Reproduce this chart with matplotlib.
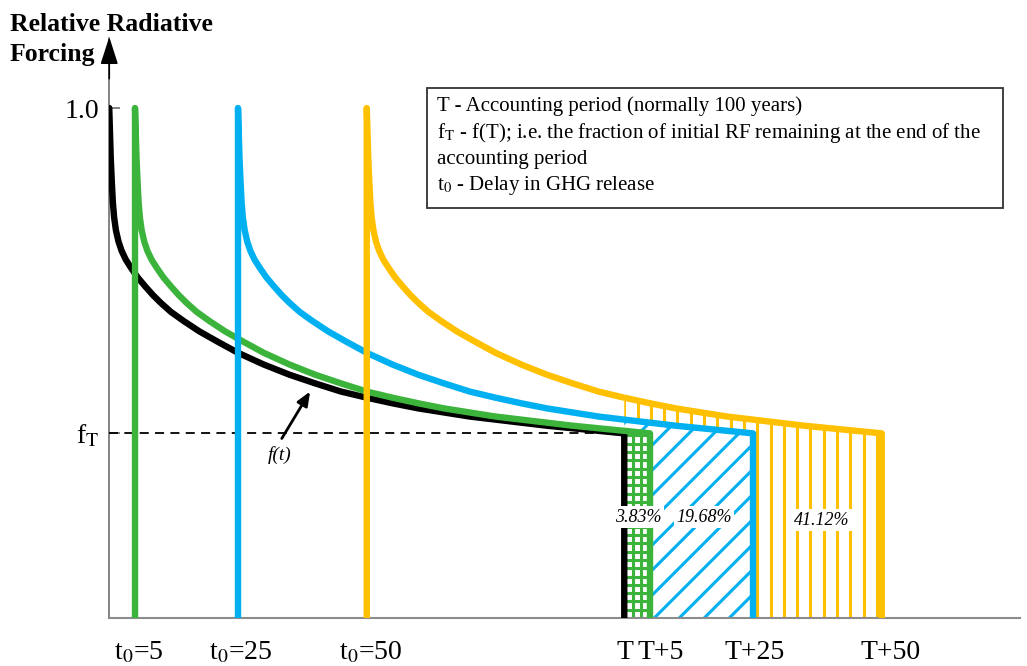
import numpy as np
import matplotlib
matplotlib.use("Agg")
import matplotlib.pyplot as plt
from matplotlib.patches import Rectangle
from matplotlib.collections import LineCollection

plt.rcParams['font.family'] = ['Liberation Serif', 'DejaVu Serif']
plt.rcParams['mathtext.fontset'] = 'stix'

# ---- data ----
t_years = [0, 0.15, 0.3, 0.5, 0.7, 0.95, 1.3, 1.8, 2.4, 3.2, 4.2, 5.5, 7, 8.5,
           10, 12, 14.5, 17.5, 21, 25, 30, 35, 40, 45, 50, 55, 60, 65, 70, 75,
           80, 85, 90, 95, 100]
f_frac = [1.00, 0.95, 0.90, 0.855, 0.815, 0.785, 0.76, 0.738, 0.72, 0.703,
          0.687, 0.668, 0.65, 0.633, 0.618, 0.600, 0.582, 0.562, 0.542, 0.52,
          0.497, 0.477, 0.46, 0.444, 0.432, 0.421, 0.411, 0.403, 0.395, 0.389,
          0.383, 0.377, 0.372, 0.367, 0.362]
T = 100
delays = [5, 25, 50]
delay_colors = ['#3CB43C', '#00B0F0', '#FFC000']
pct_labels = ['3.83%', '19.68%', '41.12%']
pct_pos = [(102.8, 0.198), (115.5, 0.198), (138.4, 0.192)]
tick_pos = [5, 25, 50, 100, 105, 125, 150]
tick_labels = [r't$_0$=5', r't$_0$=25', r't$_0$=50', 'T', 'T+5', 'T+25', 'T+50']
tick_dx_px = [4, 3, 4, 1, 11, 2, 9]

# hatch styles (kind, spacing in px, offset in px)
hatch_styles = [('grid', 8.3, 0), ('diag', 25, 30), ('vert', 13.3, 0)]

t = np.array(t_years, dtype=float)
f = np.array(f_frac, dtype=float)
fT = f[-1]

W, H = 1027, 666
fig = plt.figure(figsize=(W / 100, H / 100), dpi=100)
x0, x1, yb, yt = 109.25, 1020, 618, 38
ax = fig.add_axes([x0 / W, 1 - yb / H, (x1 - x0) / W, (yb - yt) / H])
px_per_year = 5.15
px_per_unit = 510
ax.set_xlim(0, (x1 - x0) / px_per_year)
ax.set_ylim(0, (yb - yt) / px_per_unit)

for s in ['top', 'right']:
    ax.spines[s].set_visible(False)
ax.spines['bottom'].set_color('#8c8c8c')
ax.spines['bottom'].set_linewidth(1.5)
ax.spines['left'].set_color('#6e6e6e')
ax.spines['left'].set_linewidth(1.2)

# y-axis arrow head
ax.annotate('', xy=(0, 1.0 + 0.002), xycoords=('data', 'axes fraction'),
            xytext=(0, 0.93), textcoords=('data', 'axes fraction'),
            arrowprops=dict(arrowstyle='-|>,head_length=1.0,head_width=0.32',
                            color='black', lw=1.2, mutation_scale=17,
                            shrinkA=0, shrinkB=0), annotation_clip=False)


def hatched_area(xs, ys, color, style, z):
    kind, sp_px, off_px = style
    poly = ax.fill_between(xs, 0, ys, facecolor='white', linewidth=0, zorder=z)
    path = poly.get_paths()[0]
    xmin, xmax, ymax = xs[0], xs[-1], ys.max() + 0.05
    spx = sp_px / px_per_year
    segs = []
    if kind in ('vert', 'grid'):
        for xv in xmin + off_px / px_per_year + spx * np.arange(0, 200):
            if xv > xmax + spx:
                break
            segs.append([(xv, 0), (xv, ymax)])
    if kind == 'grid':
        spy = sp_px / px_per_unit
        for yv in spy * np.arange(0, 200):
            if yv > ymax:
                break
            segs.append([(xmin - 1, yv), (xmax + 1, yv)])
    if kind == 'diag':
        k = px_per_unit / px_per_year
        b0 = xmin + off_px / px_per_year
        for b in b0 + spx * np.arange(-60, 60):
            segs.append([(b, 0), (b + ymax * k, ymax)])
    lc = LineCollection(segs, colors=color, linewidths=2.2, zorder=z + 0.05)
    lc.set_clip_path(path, ax.transData)
    ax.add_collection(lc)


# hatched areas (back to front: yellow, blue, green)
for k in [2, 1, 0]:
    d = delays[k]
    m = (t + d) >= T
    hatched_area(t[m] + d, f[m], delay_colors[k], hatch_styles[k],
                 1 + 0.1 * (2 - k))

# dashed f_T line
ax.plot([0, T], [fT, fT], ls=(0, (5, 3.5)), color='black', lw=1.3, zorder=4)

# curves
ax.plot(np.append(t, T), np.append(f, 0), color='black', lw=4.6, zorder=5,
        solid_capstyle='round', solid_joinstyle='round')
for k, d in enumerate(delays):
    xs = np.concatenate([[d], t + d, [T + d]])
    ys = np.concatenate([[0], f, [0]])
    ax.plot(xs, ys, color=delay_colors[k], lw=4.6, zorder=6 + k,
            solid_capstyle='round', solid_joinstyle='round')

# percentage labels
for lab, (px, py) in zip(pct_labels, pct_pos):
    ax.text(px, py, lab, ha='center', va='center', fontsize=13, style='italic',
            zorder=10, bbox=dict(facecolor='white', edgecolor='none', pad=1.5))

# f(t) label and arrow
ax.annotate('', xy=(39.0, 0.444), xytext=(33.5, 0.352),
            arrowprops=dict(arrowstyle='-|>,head_length=0.6,head_width=0.25',
                            color='black', lw=2.0, mutation_scale=14,
                            shrinkA=0, shrinkB=0), zorder=10)
ax.text(33.0, 0.32, 'f(t)', ha='center', va='center', fontsize=14,
        style='italic', zorder=10)

# y ticks
ax.set_yticks([fT, 1.0])
ax.set_yticklabels([r'f$_\mathrm{T}$', '1.0'], fontsize=20)
ax.tick_params(axis='y', direction='in', length=8, width=1.2, color='#6e6e6e',
               pad=7)
ax.set_xticks([])

# x labels
for pos, lab, dx in zip(tick_pos, tick_labels, tick_dx_px):
    ax.annotate(lab, xy=(pos, 0), xycoords='data', xytext=(dx * 0.72, -41 * 0.72),
                textcoords='offset points', ha='center', va='baseline',
                fontsize=20, annotation_clip=False)

# title
fig.text(10 / W, 1 - 31 / H, 'Relative Radiative', fontsize=18.5,
         fontweight='bold', ha='left', va='baseline')
fig.text(10 / W, 1 - 61 / H, 'Forcing', fontsize=18.5, fontweight='bold',
         ha='left', va='baseline')

# legend box
fig.patches.append(Rectangle((427 / W, 1 - 208 / H), 576 / W, 120 / H,
                             transform=fig.transFigure, facecolor='white',
                             edgecolor='#333333', lw=1.3, zorder=20))
box_lines = ['T - Accounting period (normally 100 years)',
             r'f$_\mathrm{T}$ - f(T); i.e. the fraction of initial RF remaining at the end of the',
             'accounting period',
             r't$_0$ - Delay in GHG release']
box_baselines = [111, 138, 164, 190]
for txt, bl in zip(box_lines, box_baselines):
    fig.text(437 / W, 1 - bl / H, txt, fontsize=15, ha='left', va='baseline',
             zorder=21)

fig.savefig('out.png', dpi=100, facecolor='white')
